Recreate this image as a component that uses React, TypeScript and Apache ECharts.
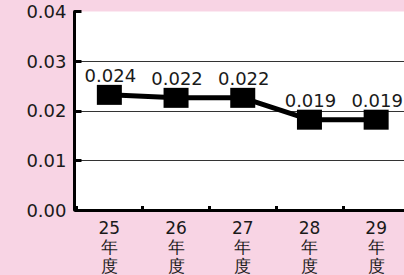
import React, { useEffect, useRef } from "react";
import * as echarts from "echarts";

const categories = ["25\n年\n度", "26\n年\n度", "27\n年\n度", "28\n年\n度", "29\n年\n度"];
const values = [0.0232, 0.0226, 0.0226, 0.0182, 0.0182];
const valueLabels = ["0.024", "0.022", "0.022", "0.019", "0.019"];
const yTicks = [0, 0.01, 0.02, 0.03, 0.04];

export default function App() {
  const ref = useRef<HTMLDivElement>(null);
  useEffect(() => {
    if (!ref.current) return;
    const chart = echarts.init(ref.current, null, { renderer: "svg" });
    chart.setOption({
      animation: false,
      backgroundColor: "#f8d4e4",
      grid: {
        show: true,
        backgroundColor: "#ffffff",
        borderWidth: 0,
        left: 76,
        right: -5.5,
        top: 11.5,
        bottom: 65,
        containLabel: false,
        outerBoundsMode: "none",
      },
      xAxis: {
        type: "category",
        data: categories,
        boundaryGap: true,
        axisLine: { show: true, lineStyle: { color: "#000", width: 3 } },
        axisTick: { show: true, inside: true, length: 4, lineStyle: { color: "#000", width: 3 } },
        axisLabel: {
          interval: 0,
          margin: 8,
          fontFamily: "DejaVu Sans",
          fontSize: 17,
          lineHeight: 19,
          color: "#1a1a1a",
        },
        splitLine: { show: false },
      },
      yAxis: {
        type: "value",
        min: yTicks[0],
        max: yTicks[yTicks.length - 1],
        interval: 0.01,
        offset: 1.5,
        axisLine: { show: true, lineStyle: { color: "#000", width: 3 } },
        axisTick: { show: true, inside: true, length: 7, lineStyle: { color: "#000", width: 3 } },
        axisLabel: {
          margin: 8,
          fontFamily: "DejaVu Sans",
          fontSize: 18,
          color: "#1a1a1a",
          formatter: (v: number) => v.toFixed(2),
        },
        splitLine: {
          show: true,
          lineStyle: { color: ["transparent", "#333", "#333", "#333", "transparent"], width: 1 },
        },
      },
      series: [
        {
          type: "line",
          data: values,
          symbol: "rect",
          symbolSize: [25, 20],
          itemStyle: { color: "#000" },
          lineStyle: { color: "#000", width: 5 },
          label: {
            show: true,
            position: "top",
            distance: 0,
            offset: [1, 0],
            fontFamily: "DejaVu Sans",
            fontSize: 18,
            color: "#1a1a1a",
            formatter: (p: any) => valueLabels[p.dataIndex],
          },
        },
      ],
    });
    return () => chart.dispose();
  }, []);
  return (
    <div
      ref={ref}
      style={{ position: "absolute", left: 0, top: 0, width: 404, height: 275 }}
    />
  );
}
